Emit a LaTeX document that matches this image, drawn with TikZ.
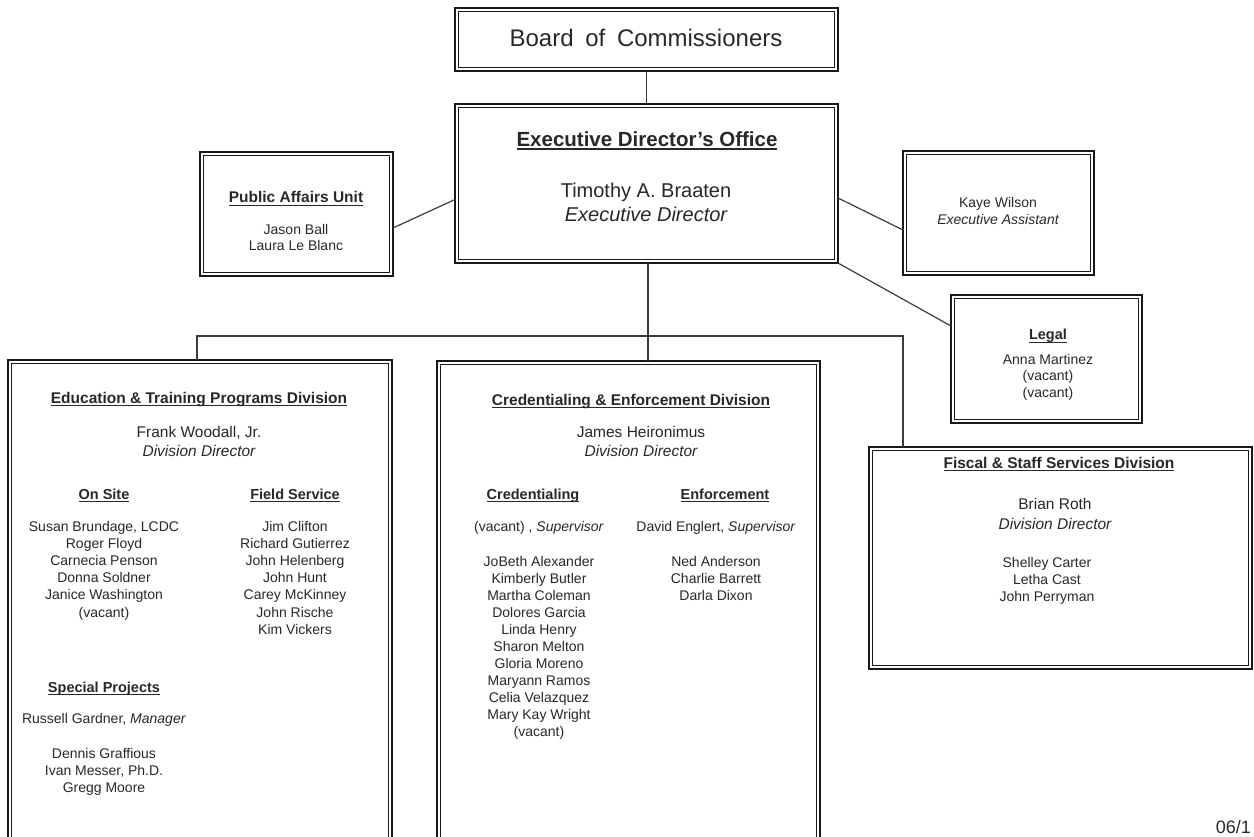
\documentclass[tikz,border=0pt]{standalone}
\usepackage{fontspec}
\setmainfont{Liberation Sans}
\definecolor{ink}{RGB}{40,40,40}
\definecolor{frame}{RGB}{25,25,25}
\definecolor{wire}{RGB}{60,60,60}
\newcommand\myul[2][0.9pt]{\setbox0=\hbox{#2}\rlap{\rule[-2.6pt]{\wd0}{#1}}\box0}
\newcommand\mybox[5]{%
  \node[orgbox,minimum width={#4pt-#2pt},minimum height={#5pt-#3pt}] (#1) at (#2,#3) {};
  \draw[innerline] ([shift={(3.6pt,3.6pt)}]#1.south west) rectangle ([shift={(-3.6pt,-3.6pt)}]#1.north east);}
\newcommand\mytext[5][]{\node[tx,#1] (#2) at (#3,#4) {#5};}
\newcommand\mylist[6][]{\foreach \s [count=\i] in {#6} {\node[tx,#1] (#2\i) at (#3,{#4+#5*(\i-1)}) {\s};}}
\tikzset{
 orgbox/.style={draw=frame,line width=2.8pt,anchor=north west,inner sep=0pt,outer sep=0pt},
 innerline/.style={draw=frame,line width=0.9pt},
 tx/.style={inner sep=0pt,anchor=base,text=ink,font=\fontsize{14}{17}\selectfont},
 ttl/.style={font=\fontsize{15.5}{18}\selectfont\bfseries},
 sub/.style={font=\fontsize{14.5}{17}\selectfont\bfseries},
 dir/.style={font=\fontsize{15.5}{18}\selectfont},
 dirit/.style={font=\fontsize{15.5}{18}\selectfont\itshape},
 wirel/.style={draw=wire,line width=1.2pt},
}
\begin{document}
\begin{tikzpicture}[x=1pt,y=-1pt]
\useasboundingbox (0,0) rectangle (1254,837);
\fill[white] (0,0) rectangle (1254,837);
\clip (0,0) rectangle (1254,837);
% boxes
\mybox{board}{455}{8}{838}{71}
\mybox{exec}{455}{104}{838}{263}
\mybox{pa}{200}{152}{393}{276}
\mybox{kw}{903}{151}{1094}{275}
\mybox{legal}{951}{295}{1142}{423}
\mybox{edu}{8}{360}{392}{842}
\mybox{cred}{437}{361}{820}{842}
\mybox{fis}{869}{447}{1252}{669}
% connectors
\coordinate (jl) at (197,336);
\coordinate (jm) at (648,336);
\coordinate (jr) at (903,336);
\draw[wirel] (board.south) -- (exec.north);
\draw[wirel] ([yshift=-14pt]pa.east) -- ([yshift=-16pt]exec.west);
\draw[wirel] ([yshift=-14.5pt]exec.east) -- ([yshift=-17pt]kw.west);
\draw[wirel] (exec.south east) -- ([yshift=33pt]legal.west);
\draw[wirel] (jm |- exec.south) -- (jm |- cred.north);
\draw[wirel] (jl |- edu.north) -- (jl) -- (jr) -- (jr |- fis.north);
% board / exec
\mytext[font=\fontsize{24}{28}\selectfont]{tboard}{646}{47}{Board\hspace{5pt} of\hspace{5pt} Commissioners}
\mytext[font=\fontsize{20.5}{24}\selectfont\bfseries]{texec}{647}{147}{\myul[1.2pt]{Executive Director’s Office}}
\mytext[font=\fontsize{20}{24}\selectfont]{tname}{646}{198}{Timothy A. Braaten}
\mytext[font=\fontsize{20}{24}\selectfont\itshape]{trole}{646}{222}{Executive Director}
% public affairs
\mytext[ttl]{tpa}{296}{203}{\myul{Public Affairs Unit}}
\mylist{pa}{296}{235}{16}{Jason Ball,Laura Le Blanc}
% Kaye
\mytext{tkw}{998}{208}{Kaye Wilson}
\mytext[font=\fontsize{14}{17}\selectfont\itshape]{tka}{998}{225}{Executive Assistant}
% legal
\mytext[sub]{tlegal}{1048}{340}{\myul{Legal}}
\mylist{lg}{1048}{364}{16.5}{Anna Martinez,(vacant),(vacant)}
% education
\mytext[ttl]{tedu}{199}{403}{\myul{Education \& Training Programs Division}}
\mytext[dir]{tfw}{199}{437}{Frank Woodall, Jr.}
\mytext[dirit]{tfwr}{199}{456}{Division Director}
\mytext[sub]{tons}{104}{499}{\myul{On Site}}
\mytext[sub]{tfs}{295}{499}{\myul{Field Service}}
\mylist{os}{104}{531}{17.2}{{Susan Brundage, LCDC},Roger Floyd,Carnecia Penson,Donna Soldner,Janice Washington,(vacant)}
\mylist{fs}{295}{531}{17.2}{Jim Clifton,Richard Gutierrez,John Helenberg,John Hunt,Carey McKinney,John Rische,Kim Vickers}
\mytext[sub]{tsp}{104}{692}{\myul{Special Projects}}
\mytext{trg}{104}{723}{Russell Gardner, \textit{Manager}}
\mylist{sp}{104}{758}{17}{Dennis Graffious,{Ivan Messer, Ph.D.},Gregg Moore}
% credentialing
\mytext[ttl]{tcred}{631}{405}{\myul{Credentialing \& Enforcement Division}}
\mytext[dir]{tjh}{641}{437}{James Heironimus}
\mytext[dirit]{tjhr}{641}{456}{Division Director}
\mytext[sub]{tcr}{533}{499}{\myul{Credentialing}}
\mytext[sub]{ten}{725}{499}{\myul{Enforcement}}
\mytext{tcs}{539}{531}{(vacant) , \textit{Supervisor}}
\mytext{tes}{716}{531}{David Englert, \textit{Supervisor}}
\mylist{cr}{539}{566}{17}{JoBeth Alexander,Kimberly Butler,Martha Coleman,Dolores Garcia,Linda Henry,Sharon Melton,Gloria Moreno,Maryann Ramos,Celia Velazquez,Mary Kay Wright,(vacant)}
\mylist{en}{716}{566}{17}{Ned Anderson,Charlie Barrett,Darla Dixon}
% fiscal
\mytext[ttl]{tfis}{1059}{468}{\myul{Fiscal \& Staff Services Division}}
\mytext[dir]{tbr}{1055}{509}{Brian Roth}
\mytext[dirit]{tbrr}{1055}{529}{Division Director}
\mylist{fi}{1047}{567.5}{17}{Shelley Carter,Letha Cast,John Perryman}
% date
\mytext[anchor=base east,font=\fontsize{18}{21}\selectfont]{tdate}{1251}{833}{06/1}
\end{tikzpicture}
\end{document}
